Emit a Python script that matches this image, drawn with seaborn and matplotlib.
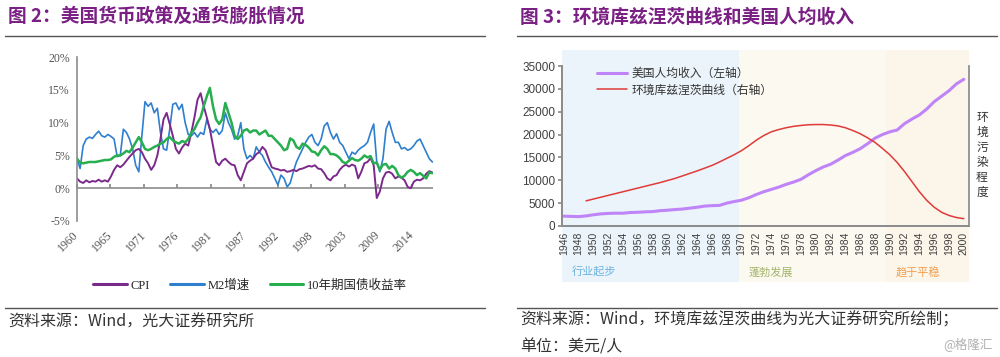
import numpy as np
import pandas as pd
import seaborn as sns
import matplotlib.pyplot as plt
from matplotlib.lines import Line2D

# ---- left chart data (half-yearly readings, %) ----
cpi = [1.5, 1.0, 0.8, 1.2, 0.9, 1.1, 1.0, 1.3, 1.0, 1.2,
       1.0, 1.8, 2.8, 3.5, 3.2, 3.6, 4.2, 4.8, 5.3, 5.8,
       6.0, 5.5, 4.5, 3.8, 2.8, 3.5, 5.0, 7.5, 10.5, 11.5,
       9.8, 8.0, 6.0, 5.3, 6.2, 6.8, 6.5, 8.5, 10.8, 13.5,
       14.5, 12.5, 10.8, 9.0, 6.5, 4.0, 3.5, 4.2, 4.5, 4.0,
       3.6, 3.5, 2.0, 1.2, 2.5, 3.8, 4.2, 4.5, 5.2, 5.5,
       6.3, 5.8, 4.5, 3.2, 3.0, 2.9, 2.7, 2.8, 2.5, 2.6,
       2.8, 2.6, 2.9, 3.0, 3.2, 3.4, 3.3, 3.5, 3.0, 2.9,
       2.3, 1.5, 1.2, 1.8, 2.0, 2.8, 3.3, 3.6, 3.3, 3.6,
       3.4, 1.5, 2.5, 3.8, 4.0, 4.6, 3.5, -1.5, -0.5, 1.5,
       2.4, 2.5, 2.2, 1.5, 1.8, 1.6, 1.2, 0.2, 0.0, 1.0,
       1.3, 1.2, 1.5, 2.2, 2.6, 2.4]
m2 = [4.5, 3.0, 6.5, 7.5, 7.8, 7.6, 8.2, 8.7, 8.0, 7.8,
      8.2, 7.9, 7.5, 4.8, 5.0, 9.0, 8.5, 7.5, 6.0, 3.5,
      2.5, 8.0, 13.2, 12.5, 13.0, 11.5, 12.2, 8.5, 6.0, 5.8,
      9.0, 12.8, 13.0, 12.0, 12.8, 10.0, 8.2, 8.0, 8.5, 7.8,
      8.5, 8.2, 10.5, 9.0, 8.5, 9.0, 8.2, 8.8, 11.5, 10.0,
      9.0, 7.5, 8.0, 10.0, 6.0, 4.5, 5.0, 4.5, 6.3, 5.5,
      5.0, 4.0, 3.2, 2.5, 1.5, 0.5, 2.0, 1.5, 0.2, 0.8,
      2.5, 4.0, 5.0, 6.0, 7.0, 7.8, 8.2, 7.0, 6.5, 7.5,
      9.5, 10.0, 8.5, 7.5, 8.3, 7.0, 6.5, 5.5, 4.5, 5.5,
      5.2, 5.8, 6.2, 6.5, 7.0, 8.5, 9.8, 4.0, 2.5, 4.5,
      9.0, 10.2, 8.5, 7.0, 7.0, 6.0, 6.2, 5.8, 6.0, 6.5,
      7.2, 7.5, 6.5, 5.5, 4.5, 4.0]
bond10 = [4.5, 3.9, 3.8, 3.9, 4.0, 4.0, 4.0, 4.1, 4.2, 4.3,
          4.3, 4.4, 4.8, 5.0, 5.0, 5.3, 5.7, 5.5, 6.2, 7.0,
          7.8, 7.0, 6.0, 5.8, 6.0, 6.3, 6.5, 6.8, 7.0, 7.5,
          7.8, 7.3, 7.0, 6.8, 7.2, 7.0, 7.5, 8.5, 9.0, 10.0,
          10.8, 12.5, 14.0, 15.3, 12.5, 10.5, 9.8, 10.5, 13.0, 11.5,
          10.0, 8.0, 7.5, 8.0, 8.8, 9.0, 8.5, 8.8, 8.8, 8.2,
          8.5, 8.8, 8.0, 8.0, 7.5, 7.0, 6.5, 5.8, 6.0, 7.6,
          7.3, 6.3, 6.0, 6.8, 6.6, 6.2, 5.6, 5.5, 5.0, 5.8,
          6.4, 6.0, 5.2, 5.2, 5.0, 4.6, 4.0, 3.8, 4.2, 4.6,
          4.3, 4.2, 4.5, 5.0, 4.7, 4.9, 3.8, 3.9, 2.8, 3.6,
          3.7, 3.0, 3.4, 3.0, 2.0, 1.6, 1.9, 2.5, 2.8, 2.5,
          2.0, 2.3, 1.9, 1.5, 2.4, 2.3]
series_names = ["CPI", "M2增速", "10年期国债收益率"]
left_tick_labels = ["1960", "1965", "1971", "1976", "1981", "1987",
                    "1992", "1998", "2003", "2009", "2014"]

# ---- right chart data ----
income_years = list(range(1946, 2001))
income = [2150, 2100, 2050, 2200, 2450, 2650, 2750, 2800, 2800, 2950,
          3000, 3100, 3150, 3350, 3450, 3600, 3700, 3900, 4100, 4350,
          4450, 4500, 5000, 5350, 5650, 6200, 6900, 7500, 8000, 8500,
          9100, 9600, 10200, 11200, 12100, 12900, 13500, 14400, 15400, 16100,
          16900, 18000, 19200, 20000, 20600, 21000, 22400, 23400, 24300, 25600,
          27200, 28400, 29600, 31100, 32100]
ekc_years = list(range(1949, 2001))
ekc = [5500, 5900, 6300, 6700, 7100, 7500, 7900, 8300, 8700, 9100,
       9500, 9950, 10400, 10950, 11500, 12050, 12650, 13250, 14000, 14800,
       15600, 16500, 17600, 18800, 19800, 20600, 21100, 21500, 21800, 22000,
       22150, 22200, 22200, 22100, 21900, 21500, 20900, 20200, 19300, 18300,
       17000, 15600, 13900, 11900, 9700, 7500, 5600, 4100, 3000, 2300,
       1850, 1600]
stage_names = ["行业起步", "蓬勃发展", "趋于平稳"]
stage_starts = [1945.75, 1969.7, 1989.5]
stage_ends = [1969.7, 1989.5, 2000.7]

sns.set_theme(style="white")
plt.rcParams["font.family"] = ["Noto Sans CJK SC", "DejaVu Sans"]
serif = ["Liberation Serif", "Noto Sans CJK SC"]

fig = plt.figure(figsize=(10, 3.57), dpi=100)

# titles, rules, sources
title_c = "#7a1f83"
fig.text(0.008, 0.952, "图 2：美国货币政策及通货膨胀情况", fontsize=13.5, fontweight="bold",
         color=title_c, va="center")
fig.text(0.520, 0.952, "图 3：环境库兹涅茨曲线和美国人均收入", fontsize=13.5, fontweight="bold",
         color=title_c, va="center")
for x0, x1 in [(0.005, 0.485), (0.517, 0.997)]:
    fig.add_artist(Line2D([x0, x1], [0.900, 0.900], color="#555555", lw=1))
    fig.add_artist(Line2D([x0, x1], [0.136, 0.136], color="#555555", lw=1))
fig.text(0.008, 0.098, "资料来源：Wind，光大证券研究所", fontsize=11.5, color="#333333", va="center")
fig.text(0.520, 0.103, "资料来源：Wind，环境库兹涅茨曲线为光大证券研究所绘制；", fontsize=11.5,
         color="#333333", va="center")
fig.text(0.520, 0.028, "单位：美元/人", fontsize=11.5, color="#333333", va="center")
fig.text(0.993, 0.035, "@格隆汇", fontsize=9, color="#b0b0b0", ha="right", va="center")

# ---- left panel ----
ax = fig.add_axes([0.077, 0.381, 0.356, 0.459])
ax.set_facecolor("none")
years = 1960 + 0.5 * np.arange(len(cpi))
df = pd.DataFrame({"year": years, "CPI": cpi, "M2增速": m2, "10年期国债收益率": bond10})
long = df.melt(id_vars="year", var_name="series", value_name="value")
colors = {"CPI": "#7b2a8c", "M2增速": "#2f7fcf", "10年期国债收益率": "#27ae4f"}
widths = {"CPI": 1.4, "M2增速": 1.2, "10年期国债收益率": 1.8}
for name in ["M2增速", "CPI", "10年期国债收益率"]:
    sns.lineplot(data=long[long.series == name], x="year", y="value",
                 color=colors[name], lw=widths[name], ax=ax, legend=False)
ax.set_xlim(1960, 2017.6)
ax.set_ylim(-5, 20)
ax.set_xlabel("")
ax.set_ylabel("")
ax.axhline(0, color="#8c8c8c", lw=1.2, zorder=1)
for s in ["top", "right", "bottom"]:
    ax.spines[s].set_visible(False)
ax.spines["left"].set_color("#8c8c8c")
ax.spines["left"].set_linewidth(1.2)
yt = [-5, 0, 5, 10, 15, 20]
ax.set_yticks(yt, [f"{v}%" for v in yt], family=serif, fontsize=8.5, color="#555555")
ax.tick_params(axis="y", direction="out", length=3, color="#8c8c8c", pad=2)
xt = [1960 + k * 65 / 12 for k in range(len(left_tick_labels))]
ax.set_xticks(xt, left_tick_labels, rotation=45, ha="right", va="center",
              rotation_mode="anchor", family=serif, fontsize=8.5, color="#555555")
ax.tick_params(axis="x", length=0, pad=9)
sec = ax.secondary_xaxis(0.2)
sec.set_xticks(xt, [""] * len(xt))
sec.tick_params(direction="in", length=3, color="#8c8c8c")
sec.spines["bottom"].set_visible(False)
handles = [Line2D([], [], color=colors[n], lw=2.2) for n in series_names]
fig.legend(handles, series_names, loc="center", bbox_to_anchor=(0.25, 0.20), ncol=3,
           frameon=False, handlelength=2.7, columnspacing=1.6, handletextpad=0.3,
           prop={"family": serif, "size": 9})

# ---- right panel ----
axr = fig.add_axes([0.562, 0.367, 0.407, 0.448])
axr.set_facecolor("none")
shade = ["#ebf4fa", "#fbf9f0", "#fcf5ea"]
text_c = ["#6bb2de", "#a3b46a", "#f29d48"]
for nm, a, b, fc, tc in zip(stage_names, stage_starts, stage_ends, shade, text_c):
    axr.axvspan(a, b, ymin=-0.35, ymax=1.10, color=fc, lw=0, zorder=0, clip_on=False)
    axr.text(a + 1.3, -0.29, nm, transform=axr.get_xaxis_transform(), fontsize=8,
             color=tc, va="center")
sns.lineplot(x=income_years, y=income, color="#bf84f7", lw=2.2, ax=axr, legend=False)
axr2 = axr.twinx()
sns.lineplot(x=ekc_years, y=ekc, color="#e03a3a", lw=1.1, ax=axr2, legend=False)
axr.set_xlim(1945.75, 2000.7)
axr.set_ylim(0, 35000)
axr2.set_ylim(0, 35000)
axr2.set_yticks([])
for a in (axr, axr2):
    a.spines["top"].set_visible(False)
    for s in ["left", "bottom", "right"]:
        a.spines[s].set_color("#8c8c8c")
axr.spines["right"].set_visible(False)
axr.set_yticks(range(0, 35001, 5000))
axr.tick_params(axis="y", direction="out", length=3, color="#8c8c8c", labelsize=8.5,
                labelcolor="#404040", pad=2)
axr.set_xticks(range(1946, 2001, 2))
axr.tick_params(axis="x", direction="in", length=2.5, color="#8c8c8c", labelsize=7.5,
                labelcolor="#404040", labelrotation=90, pad=4)
for lbl in axr.get_xticklabels() + axr.get_yticklabels():
    lbl.set_family(["Liberation Sans", "DejaVu Sans"])
h1 = Line2D([], [], color="#bf84f7", lw=2.2)
h2 = Line2D([], [], color="#e03a3a", lw=1.1)
axr2.legend([h1, h2], ["美国人均收入（左轴）", "环境库兹涅茨曲线（右轴）"], loc="upper left",
            bbox_to_anchor=(0.06, 1.06), frameon=False, fontsize=8.5, handlelength=2.5,
            handletextpad=0.4, labelspacing=0.3, labelcolor="#333333")
fig.text(0.982, 0.565, "\n".join("环境污染程度"), fontsize=8.5, color="#333333",
         ha="center", va="center", linespacing=1.2)

fig.savefig("out.png", dpi=100)
